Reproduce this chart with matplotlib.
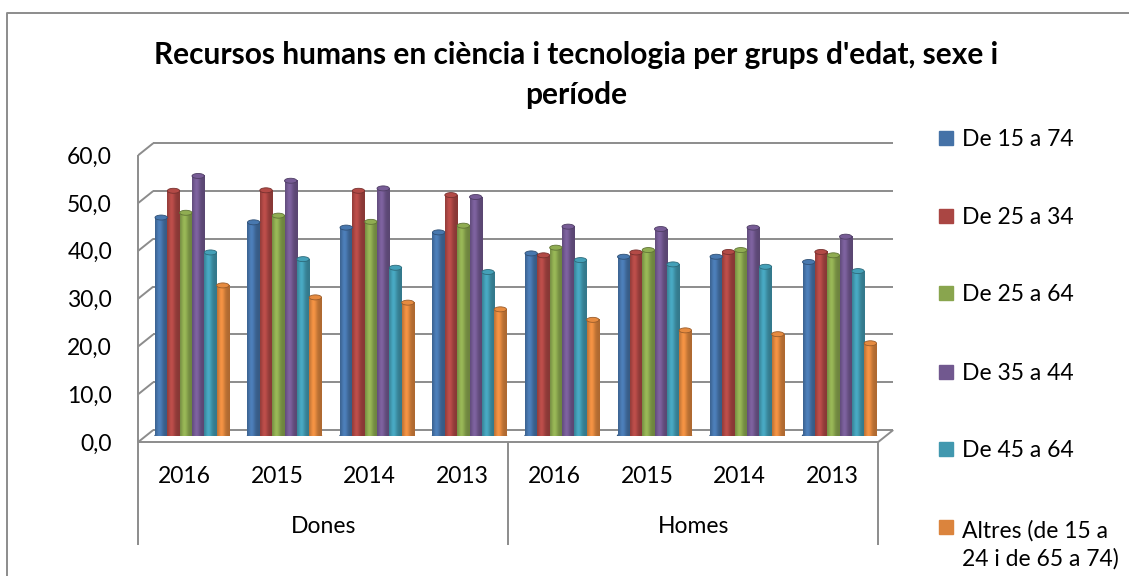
import numpy as np
import matplotlib.pyplot as plt
from matplotlib.patches import Ellipse, Rectangle
from matplotlib.lines import Line2D
import matplotlib.colors as mcolors

plt.rcParams['font.family'] = ['Lato', 'DejaVu Sans']

# data
years = ["2016", "2015", "2014", "2013", "2016", "2015", "2014", "2013"]
groups = ["Dones", "Homes"]
series_names = ["De 15 a 74", "De 25 a 34", "De 25 a 64", "De 35 a 44",
                "De 45 a 64", "Altres (de 15 a\n24 i de 65 a 74)"]
colors = ["#4572A7", "#AA4643", "#89A54E", "#71588F", "#4198AF", "#DB843D"]

de_15_a_74 = [45.7, 44.7, 43.6, 42.6, 38.2, 37.5, 37.5, 36.4]
de_25_a_34 = [51.3, 51.4, 51.3, 50.4, 37.8, 38.4, 38.5, 38.5]
de_25_a_64 = [46.7, 46.1, 44.8, 44.0, 39.4, 38.9, 38.9, 37.8]
de_35_a_44 = [54.4, 53.4, 51.8, 50.0, 43.8, 43.3, 43.6, 41.7]
de_45_a_64 = [38.4, 37.0, 35.2, 34.3, 36.8, 35.9, 35.4, 34.5]
altres = [31.5, 29.0, 27.9, 26.5, 24.3, 22.1, 21.3, 19.4]
series = [de_15_a_74, de_25_a_34, de_25_a_64, de_35_a_44, de_45_a_64, altres]

W, H = 1129, 576
FS = 16.5
fig = plt.figure(figsize=(W / 100, H / 100), dpi=100)

# plot area (pixel geometry of the excel chart)
x_px_unit = 92.5
y_px_unit = 4.78
ax = fig.add_axes([145.75 / W, (H - 436) / H, 740 / W, 60 * y_px_unit / H])
ax.axis('off')

dx = 7.5 / x_px_unit   # depth offset in x
dy = 6.0 / y_px_unit   # depth offset in y
grid_kw = dict(color="#8c8c8c", lw=1.4, solid_capstyle="butt", clip_on=False, zorder=1)

yticks = np.arange(0, 61, 10)
for v in yticks:
    ax.plot([-0.5 + dx, 7.5 + dx], [v + dy, v + dy], **grid_kw)
    ax.plot([-0.5 - dx, -0.5 + dx], [v - dy, v + dy], **grid_kw)
    ax.text(-0.865, v - dy - 0.4, f"{v:.1f}".replace(".", ","), ha="right",
            va="center", fontsize=FS)
ax.plot([-0.5 - dx, -0.5 - dx], [-dy, 60 - dy], **grid_kw)
ax.plot([-0.5 - dx, 7.5 - dx, 7.5 + dx], [-dy, -dy, dy], **grid_kw)

# category axis (two levels)
low = -22.8
for xs in [-0.5, 3.5, 7.5]:
    ax.plot([xs - dx, xs - dx], [-dy, low], **grid_kw)
for k, yr in enumerate(years):
    ax.text(k - dx, -8.4, yr, ha="center", va="center", fontsize=FS)
for g, name in enumerate(groups):
    ax.text(1.5 + 4 * g - dx, -19.0, name, ha="center", va="center", fontsize=FS)

# cylinders
n = len(series)
bw = 0.8 / n
cap_h = 5.0 / y_px_unit
t = np.linspace(0, 1, 40)
shade = 0.8 + 0.32 * np.exp(-((t - 0.35) / 0.28) ** 2)
for i, (vals, col) in enumerate(zip(series, colors)):
    rgb = np.array(mcolors.to_rgb(col))
    grad = np.clip(shade[None, :, None] * rgb[None, None, :], 0, 1)
    for k, v in enumerate(vals):
        xc = k + (i - (n - 1) / 2) * bw
        x0 = xc - bw / 2
        ax.add_patch(Ellipse((xc, 0), bw, cap_h, color=rgb * 0.75, zorder=2))
        ax.imshow(grad, extent=[x0, x0 + bw, 0, v], aspect="auto",
                  interpolation="bilinear", zorder=3)
        ax.add_patch(Ellipse((xc, v), bw, cap_h, facecolor=np.clip(rgb * 1.05, 0, 1),
                             edgecolor=rgb * 0.7, lw=0.6, zorder=4))

ax.set_xlim(-0.5, 7.5)
ax.set_ylim(0, 60)

# title (two lines as in the original)
fig.text(576 / W, 1 - 55 / H,
         "Recursos humans en ciència i tecnologia per grups d'edat, sexe i",
         ha="center", va="center", fontsize=21.5, fontweight="bold")
fig.text(576 / W, 1 - 95 / H, "període",
         ha="center", va="center", fontsize=21.5, fontweight="bold")

# legend
legend_y = [138, 216, 293, 372, 449, 527]
line_gap = 31
for name, col, cy in zip(series_names, colors, legend_y):
    fig.add_artist(Rectangle((939 / W, 1 - (cy + 7) / H), 14 / W, 14 / H,
                             transform=fig.transFigure, color=col))
    nl = name.count("\n")
    fig.text(962 / W, 1 - (cy + 8 + nl * line_gap) / H, name, ha="left",
             va="baseline", fontsize=FS, linespacing=1.42)

# outer chart border (left and top visible)
fig.add_artist(Line2D([7 / W, 7 / W, 1.0], [0, 1 - 13 / H, 1 - 13 / H],
                      transform=fig.transFigure, color="#8c8c8c", lw=1.4))

fig.savefig("out.png", dpi=100)
